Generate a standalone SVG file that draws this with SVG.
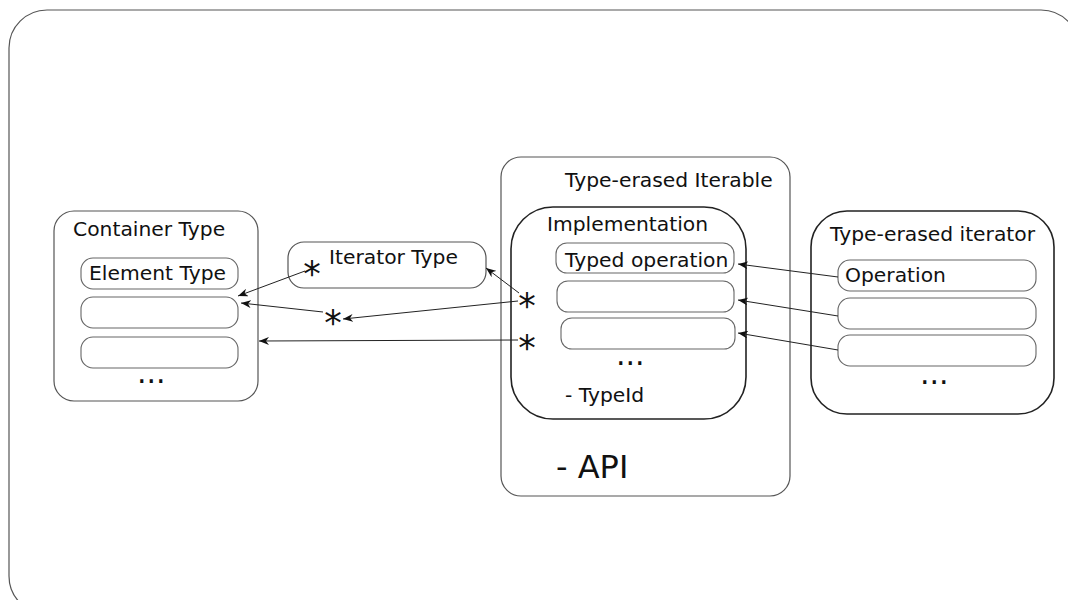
<svg xmlns="http://www.w3.org/2000/svg" width="1068" height="600" viewBox="0 0 1068 600">
<defs>
<style>
.t{font-family:"DejaVu Sans",sans-serif;font-size:20.3px;fill:#111}
.box{fill:none;stroke:#555;stroke-width:1.2}
.dark{fill:none;stroke:#222;stroke-width:1.6}
.cell{fill:#fff;stroke:#666;stroke-width:1.1}
.star{font-family:"DejaVu Sans",sans-serif;font-size:35px;fill:#111;text-anchor:middle}
.dots{font-family:"DejaVu Sans",sans-serif;font-size:30px;fill:#111}
.c{fill:none;stroke:#222;stroke-width:1}
</style>
<marker id="ah" viewBox="0 0 10 8" refX="10" refY="4" markerWidth="10" markerHeight="8" markerUnits="userSpaceOnUse" orient="auto">
<path d="M0,0 L10,4 L0,8 L3,4 z" fill="#111"/>
</marker>
</defs>
<rect width="1068" height="600" fill="#fff"/>
<rect id="frame" x="9" y="10" width="1070" height="604" rx="38" ry="38" fill="none" stroke="#555" stroke-width="1.2"/>

<g id="container">
<rect class="box" x="54" y="211" width="204" height="190" rx="20"/>
<text class="t" x="73" y="236">Container Type</text>
<g id="element-type"><rect class="cell" x="81" y="258" width="157" height="31" rx="12"/>
<text class="t" x="89" y="280">Element Type</text></g>
<rect class="cell" x="81" y="297" width="157" height="31" rx="12"/>
<rect class="cell" x="81" y="337" width="157" height="31" rx="12"/>
<text class="dots" x="137" y="383">...</text>
</g>

<g id="iterator-type">
<rect class="box" x="288" y="242" width="198" height="46" rx="16"/>
<text class="t" x="329" y="264">Iterator Type</text>
<text class="star" x="312" y="286">*</text>
</g>

<g id="mid-star"><text class="star" x="333" y="335">*</text></g>

<g id="iterable">
<rect class="box" x="501" y="157" width="289" height="339" rx="20"/>
<text class="t" x="565" y="187">Type-erased Iterable</text>
<text class="t" x="556" y="478" style="font-size:32px">- API</text>
</g>

<g id="implementation">
<rect class="dark" x="511" y="207" width="235" height="212" rx="42"/>
<text class="t" x="547" y="231">Implementation</text>
<g id="typed-op"><rect class="cell" x="556" y="243" width="178" height="30" rx="11"/>
<text class="t" x="565" y="267">Typed operation</text></g>
<rect class="cell" x="557" y="281" width="177" height="31" rx="11"/>
<rect class="cell" x="561" y="318" width="174" height="31" rx="11"/>
<text class="dots" x="616" y="365">...</text>
<text class="t" x="565" y="402">- TypeId</text>
<text class="star" x="527" y="318">*</text>
<text class="star" x="527" y="360">*</text>
</g>

<g id="erased-iterator">
<rect class="dark" x="811" y="211" width="243" height="203" rx="36"/>
<text class="t" x="830" y="241">Type-erased iterator</text>
<g id="operation"><rect class="cell" x="838" y="260" width="198" height="31" rx="12"/>
<text class="t" x="845" y="282">Operation</text></g>
<rect class="cell" x="838" y="298" width="198" height="31" rx="12"/>
<rect class="cell" x="838" y="335" width="198" height="31" rx="12"/>
<text class="dots" x="920" y="384">...</text>
</g>

<g id="connectors">
<path class="c" d="M838,277 L738,264" marker-end="url(#ah)"/>
<path class="c" d="M838,316 L738,300" marker-end="url(#ah)"/>
<path class="c" d="M838,350 L738,333" marker-end="url(#ah)"/>
<path class="c" d="M519,293 L486,268" marker-end="url(#ah)"/>
<path class="c" d="M518,301 L343,319" marker-end="url(#ah)"/>
<path class="c" d="M518,340 L259,341" marker-end="url(#ah)"/>
<path class="c" d="M305,271 L238,296" marker-end="url(#ah)"/>
<path class="c" d="M323,312 L241,303" marker-end="url(#ah)"/>
</g>
</svg>
